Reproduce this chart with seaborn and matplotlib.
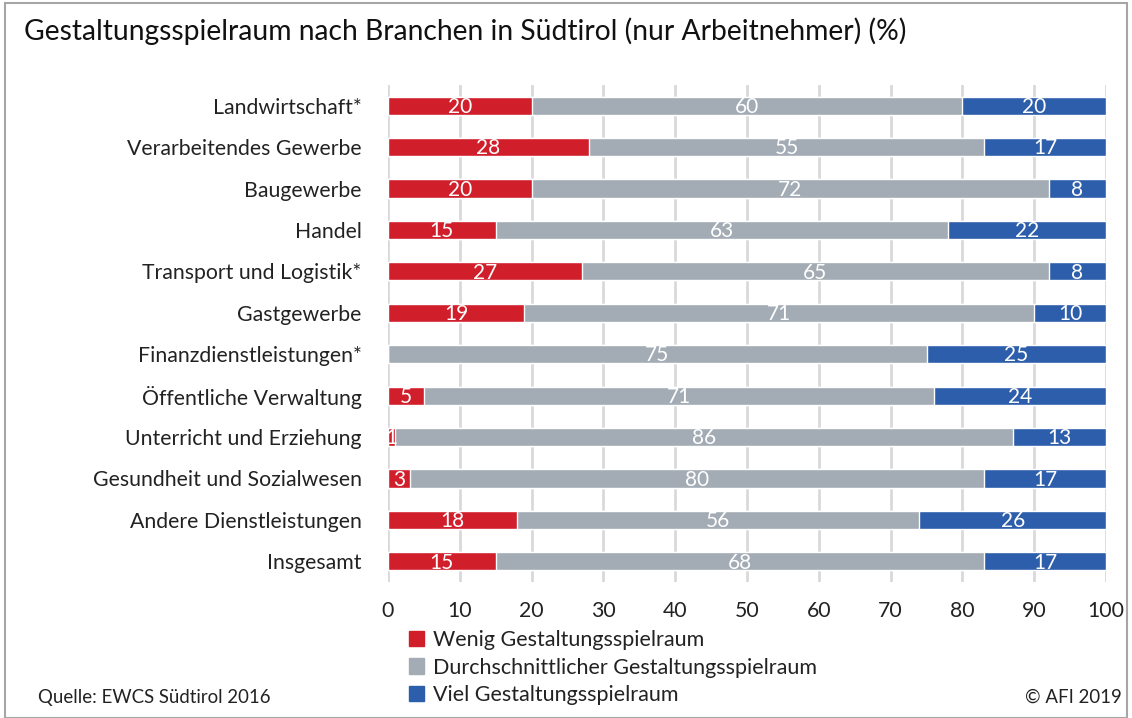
import matplotlib
matplotlib.use("Agg")
import matplotlib.pyplot as plt
import seaborn as sns
import pandas as pd
import numpy as np
from matplotlib.patches import Rectangle

categories = ["Landwirtschaft*", "Verarbeitendes Gewerbe", "Baugewerbe", "Handel",
              "Transport und Logistik*", "Gastgewerbe", "Finanzdienstleistungen*",
              "Öffentliche Verwaltung", "Unterricht und Erziehung",
              "Gesundheit und Sozialwesen", "Andere Dienstleistungen", "Insgesamt"]
wenig = [20, 28, 20, 15, 27, 19, 0, 5, 1, 3, 18, 15]
durch = [60, 55, 72, 63, 65, 71, 75, 71, 86, 80, 56, 68]
viel = [20, 17, 8, 22, 8, 10, 25, 24, 13, 17, 26, 17]
series_names = ["Wenig Gestaltungsspielraum", "Durchschnittlicher Gestaltungsspielraum",
                "Viel Gestaltungsspielraum"]
colors = ["#D01F2B", "#A3ABB4", "#2D5EAB"]
x_ticks = [0, 10, 20, 30, 40, 50, 60, 70, 80, 90, 100]

sns.set_style("white")
plt.rcParams["font.family"] = ["Lato", "DejaVu Sans"]

df = pd.DataFrame({"cat": categories, "w": wenig, "d": durch, "v": viel})
df["c1"] = df["w"]
df["c2"] = df["w"] + df["d"]
df["c3"] = df["w"] + df["d"] + df["v"]

fig = plt.figure(figsize=(11.32, 7.18), dpi=100)
ax = fig.add_axes([388/1132, 1-582/718, (1106-388)/1132, (582-85)/718])

for col, color in zip(["c3", "c2", "c1"], colors[::-1]):
    sns.barplot(data=df, x=col, y="cat", color=color, orient="h", width=0.44,
                ax=ax, saturation=1, zorder=3)

# labels
for i, (w, d, v) in enumerate(zip(wenig, durch, viel)):
    for val, start in ((w, 0), (d, w), (v, w + d)):
        if val > 0:
            ax.text(start + val / 2, i + 0.03, str(val), ha="center", va="center",
                    color="white", fontsize=15, fontweight="normal", zorder=5)

ax.set_xlim(0, 100)
ax.set_ylim(11.5, -0.5)
ax.set_xticks(x_ticks)
ax.set_xticklabels([str(t) for t in x_ticks])
ax.set_xlabel("")
ax.set_ylabel("")
ax.xaxis.grid(True, color="#D9D9D9", linewidth=2, zorder=0)
ax.set_axisbelow(True)
for s in ax.spines.values():
    s.set_visible(False)
ax.tick_params(axis="both", length=0, labelsize=15.3, colors="#222222")
ax.tick_params(axis="y", pad=19)
ax.tick_params(axis="x", pad=14)

# legend
handles = [Rectangle((0, 0), 1, 1, color=c) for c in colors]
leg = fig.legend(handles, series_names, loc="upper left",
                 bbox_to_anchor=(409/1132, 1-630/718), frameon=False,
                 fontsize=15.5, handlelength=0.7, handleheight=0.7,
                 handletextpad=0.4, labelspacing=0.35, borderaxespad=0, borderpad=0)
for t in leg.get_texts():
    t.set_color("#222222")

fig.text(24/1132, 1-31/718, "Gestaltungsspielraum nach Branchen in Südtirol (nur Arbeitnehmer) (%)",
         fontsize=20.3, va="center", ha="left", color="#111111")
fig.text(38/1132, 1-697/718, "Quelle: EWCS Südtirol 2016", fontsize=13.4, va="center",
         ha="left", color="#222222")
fig.text(1122/1132, 1-697/718, "© AFI 2019", fontsize=13.4, va="center", ha="right",
         color="#222222")

fig.patches.append(Rectangle((5/1132, 0), 1-10/1132, 1-3/718, transform=fig.transFigure,
                             fill=False, edgecolor="#A6A6A6", linewidth=1.5, figure=fig))

fig.savefig("out.png", dpi=100)
